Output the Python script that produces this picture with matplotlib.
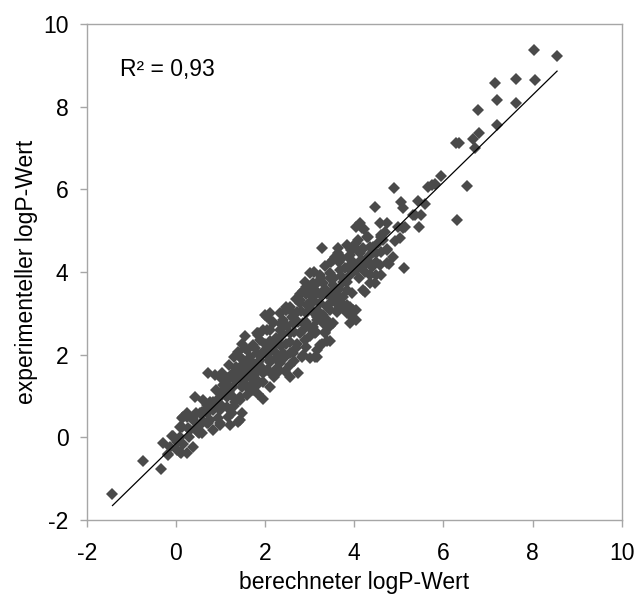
import numpy as np
import matplotlib
matplotlib.use('Agg')
import matplotlib.pyplot as plt

plt.rcParams['font.family'] = ['Liberation Sans', 'DejaVu Sans']

punkte_oben = [
    (8.04, 9.37), (8.55, 9.23), (7.15, 8.57), (7.64, 8.66), (8.06, 8.65), (7.20, 8.15),
    (7.63, 8.10), (6.77, 7.93), (7.20, 7.55), (6.80, 7.36), (6.67, 7.22), (6.28, 7.11),
    (6.35, 7.11), (6.72, 7.00), (5.94, 6.32), (5.75, 6.11), (5.66, 6.05), (6.52, 6.08),
    (5.44, 5.73), (5.59, 5.65), (5.06, 5.70), (6.31, 5.26), (4.90, 6.03), (4.46, 5.57),
    (5.10, 5.54), (5.36, 5.38), (5.49, 5.38), (5.46, 5.10), (5.81, 6.13),
]
punkte_mitte_oben = [
    (4.13, 5.18), (4.22, 5.03), (4.58, 5.19), (4.74, 5.18), (4.99, 5.10), (5.10, 5.06),
    (5.02, 4.82), (4.91, 4.76), (4.28, 4.84), (3.27, 4.57), (3.64, 4.57), (3.83, 4.65),
    (3.98, 4.57), (4.09, 4.77), (4.43, 4.61), (4.54, 4.69), (4.61, 4.49), (4.74, 4.55),
    (4.87, 4.37), (4.58, 4.17), (4.79, 4.19), (5.11, 4.10), (3.49, 4.25), (3.72, 4.33),
    (3.87, 4.13), (4.31, 4.25), (4.39, 4.13), (4.50, 3.93), (4.35, 3.73), (4.20, 3.57),
    (4.17, 4.13), (4.17, 5.06), (4.69, 4.98), (4.61, 4.85), (4.02, 4.57), (3.94, 4.53),
    (4.17, 4.53), (4.35, 4.61), (4.65, 4.77), (4.43, 4.49), (4.31, 4.37), (3.57, 4.37),
    (5.31, 5.38), (5.14, 5.10), (4.05, 5.10),
]
punkte_mitte = [
    (3.53, 4.29), (3.64, 4.45), (4.31, 4.85), (4.61, 4.90), (4.05, 4.69), (4.20, 4.57),
    (4.13, 4.45), (4.50, 4.45), (4.73, 4.53), (3.94, 4.29), (4.05, 4.05), (3.90, 3.93),
    (3.68, 4.05), (3.46, 3.97), (4.35, 4.21), (4.73, 4.21), (4.35, 3.93), (4.61, 3.93),
    (4.46, 3.73), (3.23, 3.93), (3.01, 3.97), (2.90, 3.77), (3.08, 3.73), (3.31, 3.73),
    (3.53, 3.69), (3.75, 3.77), (3.83, 3.57), (3.61, 3.48), (3.38, 3.48), (3.16, 3.52),
    (2.93, 3.48), (2.78, 3.48), (2.78, 3.24), (3.01, 3.28), (3.23, 3.24), (3.46, 3.24),
    (3.68, 3.28), (3.90, 3.16), (4.05, 3.08), (3.83, 3.00), (3.61, 3.04), (2.48, 3.08),
    (2.63, 3.00), (2.41, 2.84), (2.67, 2.76), (2.93, 2.80), (3.16, 2.84), (3.38, 2.84),
    (3.53, 2.76), (3.90, 2.76), (2.86, 1.99), (3.16, 1.95), (3.34, 2.52), (3.46, 2.32),
    (3.83, 3.20), (3.90, 2.96), (4.05, 2.84), (3.98, 3.08), (4.24, 3.52), (3.12, 2.52),
    (3.31, 2.76), (3.61, 3.08), (3.75, 3.16),
]
punkte_kern = [
    (2.93, 3.64), (3.16, 3.73), (3.08, 3.40), (3.53, 3.57), (2.78, 3.32), (3.01, 3.20),
    (3.46, 3.08), (2.48, 3.16), (2.71, 3.04), (2.93, 3.00), (3.16, 2.92), (2.33, 3.00),
    (2.11, 3.00), (2.04, 2.92), (2.18, 2.80), (2.63, 2.76), (2.86, 2.76), (3.08, 2.68),
    (3.34, 2.56), (3.27, 2.27), (1.96, 2.60), (1.81, 2.52), (2.11, 2.60), (2.33, 2.60),
    (2.56, 2.52), (2.78, 2.52), (3.01, 2.44), (1.89, 2.36), (2.11, 2.32), (2.30, 2.36),
    (2.48, 2.27), (2.71, 2.27), (2.93, 2.19), (3.16, 2.11), (1.48, 2.27), (1.59, 2.11),
    (1.77, 2.15), (2.00, 2.11), (2.22, 2.07), (2.41, 2.03), (2.63, 2.03), (2.82, 1.95),
    (3.01, 1.91), (1.44, 1.95), (1.66, 1.87), (1.89, 1.87), (2.11, 1.83), (2.33, 1.79),
    (2.56, 1.75), (1.36, 1.67), (1.59, 1.63), (1.81, 1.59), (2.04, 1.63), (2.26, 1.55),
    (2.56, 1.47), (1.29, 1.43), (1.51, 1.39), (1.74, 1.39), (1.96, 1.35), (2.11, 1.23),
    (1.48, 1.23), (3.23, 2.23), (3.38, 2.32),
    (1.60, 1.50), (1.70, 1.75), (1.85, 1.80), (1.95, 1.55), (2.05, 2.00), (2.15, 2.15),
    (2.25, 2.40), (2.35, 2.20), (2.40, 2.50), (2.45, 1.95), (2.50, 2.70), (2.55, 2.30),
    (2.60, 2.90), (2.65, 2.55), (2.70, 2.15), (2.75, 2.80), (2.80, 3.05), (2.85, 2.60),
    (2.90, 2.35), (2.95, 3.20), (3.00, 2.65), (3.05, 3.05), (3.10, 3.30), (3.15, 2.55),
    (3.20, 3.05), (3.25, 3.45), (3.30, 2.95), (3.35, 3.60), (3.40, 3.15), (3.45, 2.70),
    (3.50, 3.40), (3.55, 3.85), (3.60, 3.25), (3.65, 3.60), (3.70, 3.90), (3.75, 3.40),
    (3.80, 4.10), (3.85, 3.75), (3.90, 4.40), (3.95, 3.50), (4.00, 4.20), (4.10, 3.85),
    (4.15, 4.30), (4.25, 4.00), (4.40, 4.45), (4.50, 4.25), (2.35, 2.75), (2.55, 3.15),
    (2.70, 3.35), (2.85, 3.55), (3.05, 3.60), (3.25, 3.85), (3.45, 3.85), (3.65, 4.25),
    (3.35, 4.15), (3.10, 4.00),
]
punkte_unten = [
    (1.55, 2.15), (1.40, 2.07), (1.85, 2.52), (2.00, 2.27), (1.81, 2.03), (1.66, 1.95),
    (1.96, 2.03), (2.18, 2.23), (2.26, 1.95), (2.11, 1.87), (1.59, 1.79), (1.44, 1.71),
    (1.74, 1.63), (1.92, 1.71), (2.11, 1.59), (2.26, 1.67), (0.73, 1.55), (0.88, 1.51),
    (1.04, 1.56), (1.29, 1.55), (1.14, 1.39), (1.36, 1.39), (1.59, 1.47), (1.81, 1.39),
    (1.06, 1.27), (1.29, 1.23), (1.51, 1.27), (1.74, 1.15), (0.43, 0.98), (0.61, 0.90),
    (0.76, 0.86), (0.95, 0.94), (1.14, 0.98), (1.44, 0.98), (1.33, 0.86), (1.59, 1.02),
    (1.96, 0.94), (0.69, 0.70), (0.84, 0.74), (0.99, 0.66), (1.14, 0.74), (1.25, 0.58),
    (1.48, 0.58), (1.44, 0.42), (0.17, 0.50), (0.39, 0.46), (0.54, 0.58), (0.76, 0.42),
    (0.99, 0.30), (1.21, 0.30), (0.13, 0.26), (0.32, 0.18), (0.47, 0.26), (0.58, 0.10),
    (0.84, 0.18), (1.20, 1.10), (1.30, 0.75), (1.00, 0.80), (0.90, 1.15), (1.10, 1.20),
    (1.70, 1.30), (1.85, 1.05), (2.20, 1.45), (2.30, 1.90), (2.45, 1.60), (2.65, 1.85),
    (1.55, 2.45), (1.30, 1.95), (1.20, 1.75), (1.00, 1.45), (0.60, 0.40), (0.45, 0.60),
    (0.30, 0.00), (0.15, -0.15),
]
punkte_links = [
    (-1.42, -1.37), (-0.73, -0.57), (-0.34, -0.77), (-0.28, -0.13), (-0.09, 0.04),
    (-0.18, -0.43), (0.02, -0.31), (0.09, 0.02), (0.11, -0.39), (0.24, -0.39),
    (0.38, -0.23), (0.24, 0.50), (0.39, 0.42), (0.28, 0.22), (0.52, 0.10), (0.58, 0.62),
    (0.69, 0.78), (0.73, 0.34), (0.84, 0.86), (0.99, 0.34), (1.17, 0.50), (1.40, 0.38),
    (1.44, 0.90), (1.29, 0.98), (1.06, 1.07), (1.21, 1.23), (1.14, 1.43), (1.29, 1.47),
    (1.44, 1.55), (1.36, 1.71), (1.51, 1.87), (1.62, 1.71), (1.74, 1.47), (1.59, 1.23),
    (1.81, 1.27), (1.85, 2.48), (2.04, 2.60), (2.00, 2.96), (2.18, 2.76), (2.48, 3.08),
    (2.56, 2.03), (2.74, 1.55), (3.12, 1.95), (1.74, 2.23), (0.26, 0.60), (0.09, 0.26),
    (0.50, 0.14), (0.54, 0.30), (0.69, 0.34), (0.69, 0.58), (0.84, 0.66), (0.76, 0.82),
    (0.95, 0.46), (-0.13, -0.23), (0.02, -0.11), (-0.17, -0.40), (0.09, -0.35),
    (-0.07, 0.03), (0.13, 0.48),
]

alle = punkte_oben + punkte_mitte_oben + punkte_mitte + punkte_kern + punkte_unten + punkte_links
x_ber, y_exp = np.array(alle).T

# lineare Regression (Trendlinie)
m, b = np.polyfit(x_ber, y_exp, 1)
x_lin = np.array([x_ber.min(), x_ber.max()])

fig = plt.figure(figsize=(6.37, 6.03), dpi=100)
ax = fig.add_axes([0.136, 0.1376, 0.840, 0.8226])

ax.plot(x_ber, y_exp, 'D', color='#4a4a4a', markersize=6.3, markeredgewidth=0)
ax.plot(x_lin, m * x_lin + b, color='black', linewidth=0.9)

ax.text(-1.25, 8.89, 'R² = 0,93', fontsize=16.5, ha='left', va='center')

ax.set_xlim(-2, 10)
ax.set_ylim(-2, 10)
ticks = [-2, 0, 2, 4, 6, 8, 10]
ax.set_xticks(ticks)
ax.set_yticks(ticks)
ax.set_xticklabels([str(t) for t in ticks], fontsize=16.5)
ax.set_yticklabels([str(t) for t in ticks], fontsize=16.5)
ax.tick_params(direction='out', length=5, width=1, color='#a6a6a6')
ax.tick_params(axis='x', pad=11)
ax.tick_params(axis='y', pad=8)
for s in ax.spines.values():
    s.set_color('#a6a6a6')
    s.set_linewidth(1)

ax.set_xlabel('berechneter logP-Wert', fontsize=16.5, labelpad=4)
ax.set_ylabel('experimenteller logP-Wert', fontsize=16.5, labelpad=3.5)

plt.savefig('out.png', dpi=100)
plt.close()
